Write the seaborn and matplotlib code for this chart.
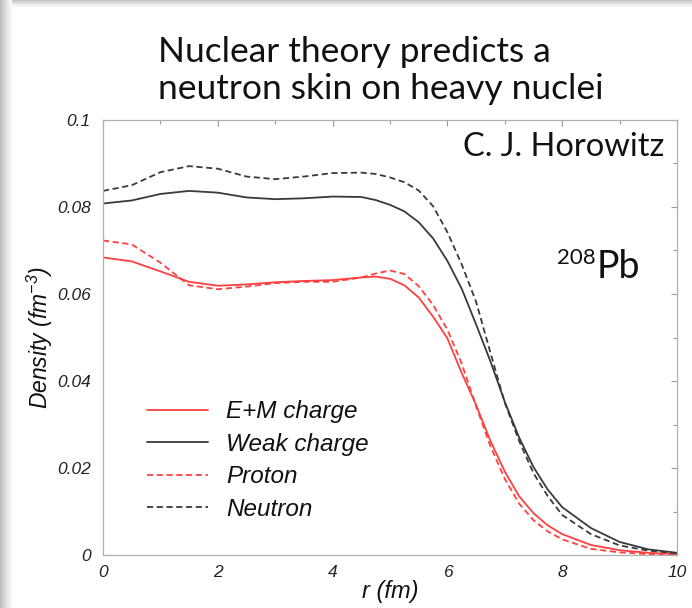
import numpy as np
import pandas as pd
import matplotlib
matplotlib.use("Agg")
import matplotlib.pyplot as plt
from matplotlib.patches import Rectangle
from matplotlib.ticker import MultipleLocator, FixedLocator
import seaborn as sns

# ---- data ----
r_fm = [0, 0.5, 1.0, 1.5, 2.0, 2.5, 3.0, 3.5, 4.0, 4.5, 4.75, 5.0, 5.25, 5.5,
        5.75, 6.0, 6.25, 6.5, 6.75, 7.0, 7.25, 7.5, 7.75, 8.0, 8.5, 9.0, 9.5, 10.0]
em_charge = [0.0684, 0.0675, 0.0652, 0.0628, 0.0619, 0.0622, 0.0627, 0.0630, 0.0632,
             0.0638, 0.0640, 0.0635, 0.0620, 0.0592, 0.0548, 0.0498, 0.0418, 0.0345,
             0.0262, 0.0192, 0.0135, 0.0096, 0.0068, 0.0048, 0.0023, 0.0011, 0.0005, 0.0002]
weak_charge = [0.0808, 0.0815, 0.0830, 0.0837, 0.0833, 0.0822, 0.0818, 0.0820, 0.0824,
               0.0823, 0.0816, 0.0805, 0.0790, 0.0765, 0.0728, 0.0676, 0.0612, 0.0530,
               0.0445, 0.0352, 0.0270, 0.0202, 0.0150, 0.0110, 0.0062, 0.0030, 0.0013, 0.0005]
proton = [0.0723, 0.0714, 0.0672, 0.0620, 0.0611, 0.0617, 0.0625, 0.0628, 0.0628,
          0.0638, 0.0647, 0.0654, 0.0646, 0.0618, 0.0575, 0.0518, 0.0440, 0.0342,
          0.0250, 0.0175, 0.0118, 0.0080, 0.0054, 0.0036, 0.0014, 0.0006, 0.0002, 0.0001]
neutron = [0.0837, 0.0850, 0.0880, 0.0894, 0.0888, 0.0870, 0.0864, 0.0870, 0.0878,
           0.0879, 0.0876, 0.0868, 0.0857, 0.0838, 0.0802, 0.0742, 0.0668, 0.0582,
           0.0465, 0.0350, 0.0262, 0.0188, 0.0135, 0.0092, 0.0048, 0.0022, 0.0010, 0.0004]

series_names = ["E+M charge", "Weak charge", "Proton", "Neutron"]
x_ticks = [0, 2, 4, 6, 8, 10]
x_tick_labels = ["0", "2", "4", "6", "8", "10"]
y_ticks = [0, 0.02, 0.04, 0.06, 0.08, 0.1]
y_tick_labels = ["0", "0.02", "0.04", "0.06", "0.08", "0.1"]

# ---- styling ----
sns.set_style("white")
plt.rcParams["font.family"] = ["Liberation Sans", "DejaVu Sans"]
plt.rcParams["font.style"] = "italic"
plt.rcParams["mathtext.fontset"] = "custom"
plt.rcParams["mathtext.it"] = "Liberation Sans:italic"
plt.rcParams["mathtext.rm"] = "Liberation Sans:italic"

W, H = 692, 608
fig = plt.figure(figsize=(W / 100, H / 100), dpi=100)
fig.patch.set_facecolor("white")

# slide-like soft shadow on top and left
top_cols = ["#c4c4c4", "#cdcdcd", "#d7d7d7", "#e2e2e2", "#ececec", "#f5f5f5"]
for i, c in enumerate(top_cols):
    fig.add_artist(Rectangle((0, 1 - (i + 1) / H), 1, 1 / H,
                             transform=fig.transFigure, color=c, zorder=-5))
left_cols = ["#bdbdbd", "#c2c2c2", "#c8c8c8", "#cecece", "#d4d4d4", "#dadada",
             "#e0e0e0", "#e6e6e6", "#ececec", "#f1f1f1", "#f6f6f6"]
for i, c in enumerate(left_cols):
    fig.add_artist(Rectangle((i / W, 0), 1 / W, 1,
                             transform=fig.transFigure, color=c, zorder=-4))

ax = fig.add_axes([103 / W, (H - 555) / H, (677 - 103) / W, (555 - 120) / H])

df = pd.DataFrame({"r": r_fm * 4,
                   "density": em_charge + weak_charge + proton + neutron,
                   "series": sum([[n] * len(r_fm) for n in series_names], [])})

palette = {"E+M charge": "#ff4040", "Weak charge": "#3a3a3a",
           "Proton": "#ff4040", "Neutron": "#3a3a3a"}
dashes = {"E+M charge": "", "Weak charge": "", "Proton": (3.4, 2.0), "Neutron": (3.4, 2.0)}

sns.lineplot(data=df, x="r", y="density", hue="series", style="series",
             hue_order=series_names, style_order=series_names,
             palette=palette, dashes=dashes, linewidth=1.3, ax=ax, sort=False)

ax.set_xlim(0, 10)
ax.set_ylim(0, 0.1)
ax.xaxis.set_major_locator(FixedLocator(x_ticks))
ax.yaxis.set_major_locator(FixedLocator(y_ticks))
ax.set_xticklabels(x_tick_labels)
ax.set_yticklabels(y_tick_labels)
ax.xaxis.set_minor_locator(MultipleLocator(1))
ax.yaxis.set_minor_locator(MultipleLocator(0.01))
ax.tick_params(which="both", direction="in", top=True, right=True,
               color="#9a9a9a", width=0.8)
ax.tick_params(which="major", length=4)
ax.tick_params(which="minor", length=3)
ax.tick_params(axis="y", which="major", pad=9, labelsize=12.5, labelcolor="#222222")
ax.tick_params(axis="x", which="major", pad=7, labelsize=12.5, labelcolor="#222222")
for s in ax.spines.values():
    s.set_color("#b0b0b0")
    s.set_linewidth(0.9)

ax.set_xlabel("r (fm)", fontsize=17, labelpad=0, color="#111111")
ax.set_ylabel("Density (fm$^{-3}$)", fontsize=16.5, labelpad=1, color="#111111")

leg = ax.legend(loc="lower left", bbox_to_anchor=(0.06, 0.056), frameon=False,
                fontsize=17.5, handlelength=2.5, handletextpad=0.74,
                labelspacing=0.39, borderaxespad=0)
for t in leg.get_texts():
    t.set_color("#111111")

# annotations (upright)
kw = dict(family=["Lato", "DejaVu Sans"], fontstyle="normal", color="#111111")
fig.text(158 / W, 1 - 62 / H, "Nuclear theory predicts a", fontsize=25.5,
         ha="left", va="baseline", **kw)
fig.text(158 / W, 1 - 99 / H, "neutron skin on heavy nuclei", fontsize=25.5,
         ha="left", va="baseline", **kw)
fig.text(664 / W, 1 - 156 / H, "C. J. Horowitz", fontsize=23.5,
         ha="right", va="baseline", **kw)
fig.text(596 / W, 1 - 264 / H, "208", fontsize=16,
         ha="right", va="baseline", **kw)
fig.text(597 / W, 1 - 278 / H, "Pb", fontsize=27,
         ha="left", va="baseline", **kw)

fig.savefig("out.png", dpi=100)
